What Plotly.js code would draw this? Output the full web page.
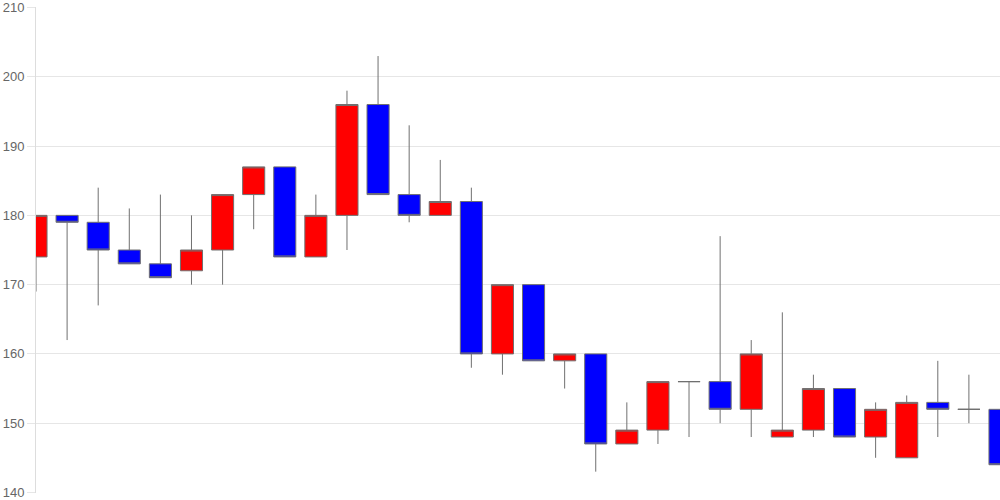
<!DOCTYPE html>
<html>
<head>
<meta charset="utf-8">
<script src="https://cdn.plot.ly/plotly-3.0.1.min.js"></script>
<style>html,body{margin:0;padding:0;background:#fff;}#chart{width:1000px;height:500px;}</style>
</head>
<body>
<div id="chart"></div>
<script>
const days = [0,1,2,3,4,5,6,7,8,9,10,11,12,13,14,15,16,17,18,19,20,21,22,23,24,25,26,27,28,29,30,31];
const openV  = [174,180,179,175,173,172,175,183,187,174,180,196,183,180,182,160,170,159,160,147,149,156,156,152,148,149,155,148,145,153,152,152];
const highV  = [180,180,184,181,183,180,183,187,187,183,198,203,193,188,184,170,170,160,160,153,156,156,177,162,166,157,155,153,154,159,157,152];
const lowV   = [169,162,167,173,171,170,170,178,174,174,175,183,179,180,158,157,159,155,143,147,147,148,150,148,148,148,148,145,145,148,150,144];
const closeV = [180,179,175,173,171,175,183,187,174,180,196,183,180,182,160,170,159,160,147,149,156,156,152,160,149,155,148,152,153,152,152,144];
const yTicks = [140,150,160,170,180,190,200,210];

Plotly.newPlot('chart', [{
  type: 'candlestick',
  x: days, open: openV, high: highV, low: lowV, close: closeV,
  increasing: {fillcolor: '#ff0000', line: {color: '#707070', width: 1}},
  decreasing: {fillcolor: '#0000ff', line: {color: '#707070', width: 1}},
  whiskerwidth: 0,
  hoverinfo: 'skip'
}], {
  width: 1000, height: 500,
  margin: {l: 36, r: 0, t: 7, b: 7},
  paper_bgcolor: '#ffffff', plot_bgcolor: '#ffffff',
  showlegend: false,
  boxgap: 0.29,
  boxgroupgap: 0,
  xaxis: {
    type: 'linear', range: [0, 31], showticklabels: false, showgrid: false,
    zeroline: false, rangeslider: {visible: false}, fixedrange: true, ticks: ''
  },
  yaxis: {
    range: [139.92, 210.08], tickvals: yTicks, ticktext: yTicks.map(String),
    ticklabeloverflow: 'allow',
    showgrid: true, gridcolor: '#e6e6e6', gridwidth: 1,
    showline: true, linecolor: '#dddddd', linewidth: 1,
    ticks: 'outside', ticklen: 8, tickcolor: '#e6e6e6',
    tickfont: {family: 'Liberation Sans, Arial, sans-serif', size: 13, color: '#666666'},
    zeroline: false, fixedrange: true
  }
}, {displayModeBar: false, staticPlot: true});
</script>
</body>
</html>
